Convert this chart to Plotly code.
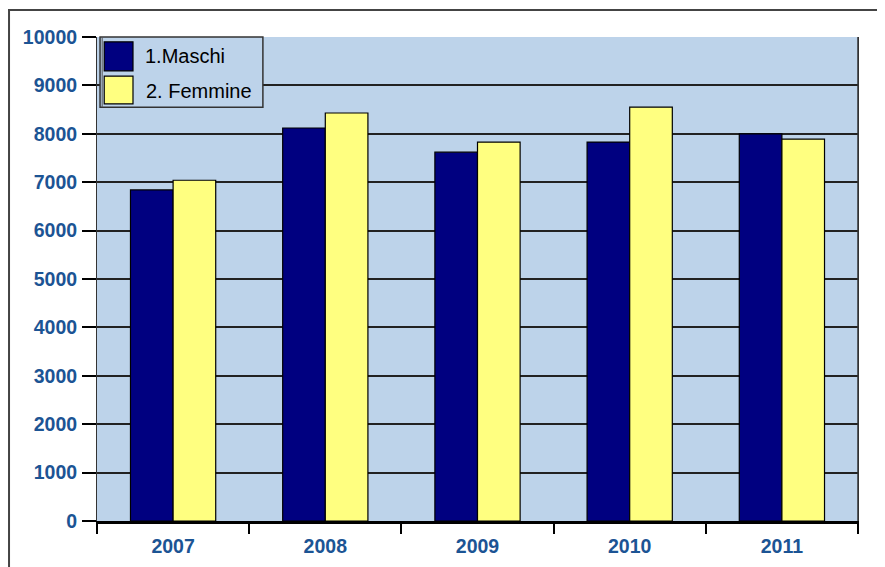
import plotly.graph_objects as go

years = ["2007", "2008", "2009", "2010", "2011"]
maschi = [6840, 8120, 7620, 7830, 8000]
femmine = [7040, 8430, 7830, 8550, 7890]
series_names = ["1.Maschi", "2. Femmine"]

NAVY = "#000080"
YELLOW = "#FFFF80"
BG = "#BDD3EA"
TICK_BLUE = "#1C5494"

fig = go.Figure()
fig.add_trace(go.Bar(x=years, y=maschi, name=series_names[0], marker_color=NAVY,
                     marker_line=dict(color="black", width=1.2)))
fig.add_trace(go.Bar(x=years, y=femmine, name=series_names[1], marker_color=YELLOW,
                     marker_line=dict(color="black", width=1.2)))

# page body has an 8px margin, so the figure is sized to fit the window
fig.update_layout(
    width=877, height=559,
    margin=dict(l=89, r=27, t=29, b=46),
    paper_bgcolor="white",
    plot_bgcolor=BG,
    barmode="group",
    bargap=0.44,
    bargroupgap=0,
    showlegend=False,
    font=dict(family="Arial, Liberation Sans", color="black"),
)

tick_font = dict(size=19.5, color=TICK_BLUE, family="Arial, Liberation Sans", weight="bold")

fig.update_yaxes(
    range=[0, 10000], dtick=1000, tickformat="d", automargin=False,
    showgrid=True, gridcolor="#222222", gridwidth=1.5,
    ticks="outside", ticklen=14, tickcolor="black", tickwidth=1.5,
    tickfont=tick_font, ticklabelstandoff=1,
    showline=True, linecolor="#333333", linewidth=1, mirror=True,
    zeroline=False,
)
fig.update_xaxes(
    ticks="outside", tickson="boundaries", ticklen=10, tickcolor="black", tickwidth=1.5,
    tickfont=tick_font, ticklabelstandoff=6, automargin=False,
    showline=True, linecolor="black", linewidth=2.5, mirror=False,
    showgrid=False,
)

# outer frame of the chart image (cut off at the right and bottom)
fig.add_shape(type="rect", xref="paper", yref="paper",
              x0=-0.1156, x1=1.2, y0=-0.2, y1=1.056,
              line=dict(color="#444444", width=2), layer="below")
# right plot border
fig.add_shape(type="line", xref="paper", yref="paper", x0=1, x1=1, y0=0, y1=1,
              line=dict(color="#333333", width=1.5))

# legend drawn by hand
fig.add_shape(type="rect", xref="paper", yref="paper",
              x0=0.004, x1=0.218, y0=0.855, y1=1.0,
              line=dict(color="#333333", width=1.5), fillcolor=BG)
fig.add_shape(type="line", xref="paper", yref="paper",
              x0=0.0068, x1=0.0068, y0=0.855, y1=1.0,
              line=dict(color="#555555", width=1))
fig.add_shape(type="rect", xref="paper", yref="paper",
              x0=0.0095, x1=0.0473, y0=0.930, y1=0.990,
              line=dict(color="black", width=1.2), fillcolor=NAVY)
fig.add_shape(type="rect", xref="paper", yref="paper",
              x0=0.0095, x1=0.0473, y0=0.862, y1=0.919,
              line=dict(color="black", width=1.2), fillcolor=YELLOW)
fig.add_annotation(xref="paper", yref="paper", x=0.060, y=0.960, text=series_names[0],
                   showarrow=False, xanchor="left", yanchor="middle",
                   font=dict(size=20, color="black"))
fig.add_annotation(xref="paper", yref="paper", x=0.062, y=0.889, text=series_names[1],
                   showarrow=False, xanchor="left", yanchor="middle",
                   font=dict(size=20, color="black"))

fig.write_html("out.html")
